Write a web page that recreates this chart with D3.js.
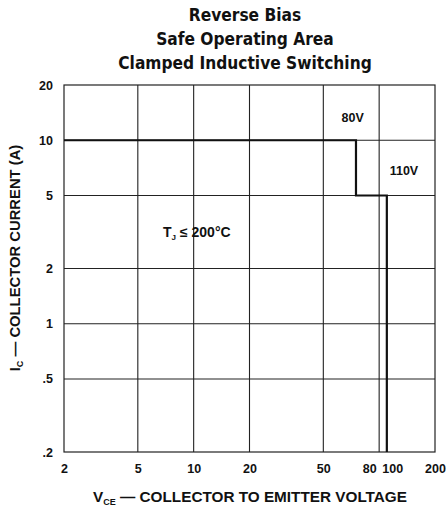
<!DOCTYPE html>
<html>
<head>
<meta charset="utf-8">
<script src="https://cdn.jsdelivr.net/npm/d3@7"></script>
<style>
  body { margin: 0; background: #fff; }
  svg text { font-family: "Liberation Sans", Arial, sans-serif; font-weight: bold; fill: #111; }
  .title { font-family: "DejaVu Sans Condensed", "DejaVu Sans", sans-serif; font-stretch: condensed; font-size: 17.2px; }
</style>
</head>
<body>
<svg width="446" height="508"></svg>
<script>
// Chart data.

var titleLines = ['Reverse Bias', 'Safe Operating Area', 'Clamped Inductive Switching'];
var xTicks = [2, 5, 10, 20, 50, 80, 100, 200];
var xGrid = [5, 10, 20, 50, 100];
var yTicks = [0.2, 0.5, 1, 2, 5, 10, 20];
var yTickLabels = ['.2', '.5', '1', '2', '5', '10', '20'];
var yGrid = [0.5, 1, 2, 5, 10];

// Limit line: 10 A up to ~75 V, 5 A up to 110 V.
var vce = [2, 75, 75, 110, 110];
var ic = [10, 10, 5, 5, 0.2];

var curveLabels = [
  {text: '80V', v: 72, i: 13.2},
  {text: '110V', v: 136, i: 6.8}
];

var svg = d3.select('svg');
var margin = {top: 85, right: 11, bottom: 56, left: 64};
var width = svg.attr('width') - margin.left - margin.right;
var height = svg.attr('height') - margin.top - margin.bottom;
var graphic = svg.append('g').attr('transform', 'translate(' + margin.left + ',' + margin.top + ')');

var x = d3.scaleLog().domain([2, 200]).range([0, width]);
var y = d3.scaleLog().domain([0.2, 20]).range([height, 0]);

// Title.

svg.selectAll('.title')
  .data(titleLines)
  .enter().append('text')
  .attr('class', 'title')
  .attr('x', 245)
  .attr('y', function(d, i) { return 21 + i * 24; })
  .attr('text-anchor', 'middle')
  .text(function(d) { return d; });

// Grid and frame.

graphic.append('g')
  .selectAll('line')
  .data(xGrid)
  .enter().append('line')
  .attr('x1', function(d) { return x(d); })
  .attr('x2', function(d) { return x(d); })
  .attr('y1', 0)
  .attr('y2', height)
  .attr('stroke', '#222')
  .attr('stroke-width', 1.1);

graphic.append('g')
  .selectAll('line')
  .data(yGrid)
  .enter().append('line')
  .attr('x1', 0)
  .attr('x2', width)
  .attr('y1', function(d) { return y(d); })
  .attr('y2', function(d) { return y(d); })
  .attr('stroke', '#222')
  .attr('stroke-width', 1.1);

graphic.append('rect')
  .attr('width', width)
  .attr('height', height)
  .attr('fill', 'none')
  .attr('stroke', '#222')
  .attr('stroke-width', 1.2);

// Axes, labels only.

var xLabelShift = {80: 8, 100: 13};

graphic.append('g')
  .attr('transform', 'translate(0,' + height + ')')
  .call(d3.axisBottom(x)
    .tickValues(xTicks)
    .tickFormat(d3.format('d'))
    .tickSize(0)
    .tickPadding(12))
  .call(function(g) {
    g.select('.domain').remove();
    g.selectAll('text')
      .attr('font-size', 12.5)
      .attr('font-family', null)
      .attr('dx', function(d) { return xLabelShift[d] || 0; });
  });

graphic.append('g')
  .call(d3.axisLeft(y)
    .tickValues(yTicks)
    .tickFormat(function(d, i) { return yTickLabels[i]; })
    .tickSize(0)
    .tickPadding(11))
  .call(function(g) {
    g.select('.domain').remove();
    g.selectAll('text').attr('font-size', 12.5).attr('font-family', null);
  });

// Limit curve.

var line = d3.line()
  .x(function(d) { return x(d[0]); })
  .y(function(d) { return y(d[1]); });

graphic.append('path')
  .datum(d3.zip(vce, ic))
  .attr('d', line)
  .attr('fill', 'none')
  .attr('stroke', '#111')
  .attr('stroke-width', 2.2);

graphic.selectAll('.curve-label')
  .data(curveLabels)
  .enter().append('text')
  .attr('class', 'curve-label')
  .attr('x', function(d) { return x(d.v); })
  .attr('y', function(d) { return y(d.i); })
  .attr('dy', '0.35em')
  .attr('text-anchor', 'middle')
  .attr('font-size', 12.5)
  .text(function(d) { return d.text; });

var tj = graphic.append('text')
  .attr('x', x(6.84))
  .attr('y', y(2.97))
  .attr('font-size', 14);
tj.append('tspan').text('T');
tj.append('tspan').attr('font-size', 8).attr('dy', 3).text('J');
tj.append('tspan').attr('dy', -3).text(' \u2264 200\u00b0C');

// Axis titles.

var xt = svg.append('text')
  .attr('x', 250)
  .attr('y', 502)
  .attr('text-anchor', 'middle')
  .attr('font-size', 15.3);
xt.append('tspan').text('V');
xt.append('tspan').attr('font-size', 9).attr('dy', 3).text('CE');
xt.append('tspan').attr('dy', -3).text(' \u2014 COLLECTOR TO EMITTER VOLTAGE');

var yt = svg.append('text')
  .attr('transform', 'translate(20,258) rotate(-90)')
  .attr('text-anchor', 'middle')
  .attr('font-size', 14.8);
yt.append('tspan').text('I');
yt.append('tspan').attr('font-size', 9).attr('dy', 3).text('C');
yt.append('tspan').attr('dy', -3).text(' \u2014 COLLECTOR CURRENT (A)');
</script>
</body>
</html>
